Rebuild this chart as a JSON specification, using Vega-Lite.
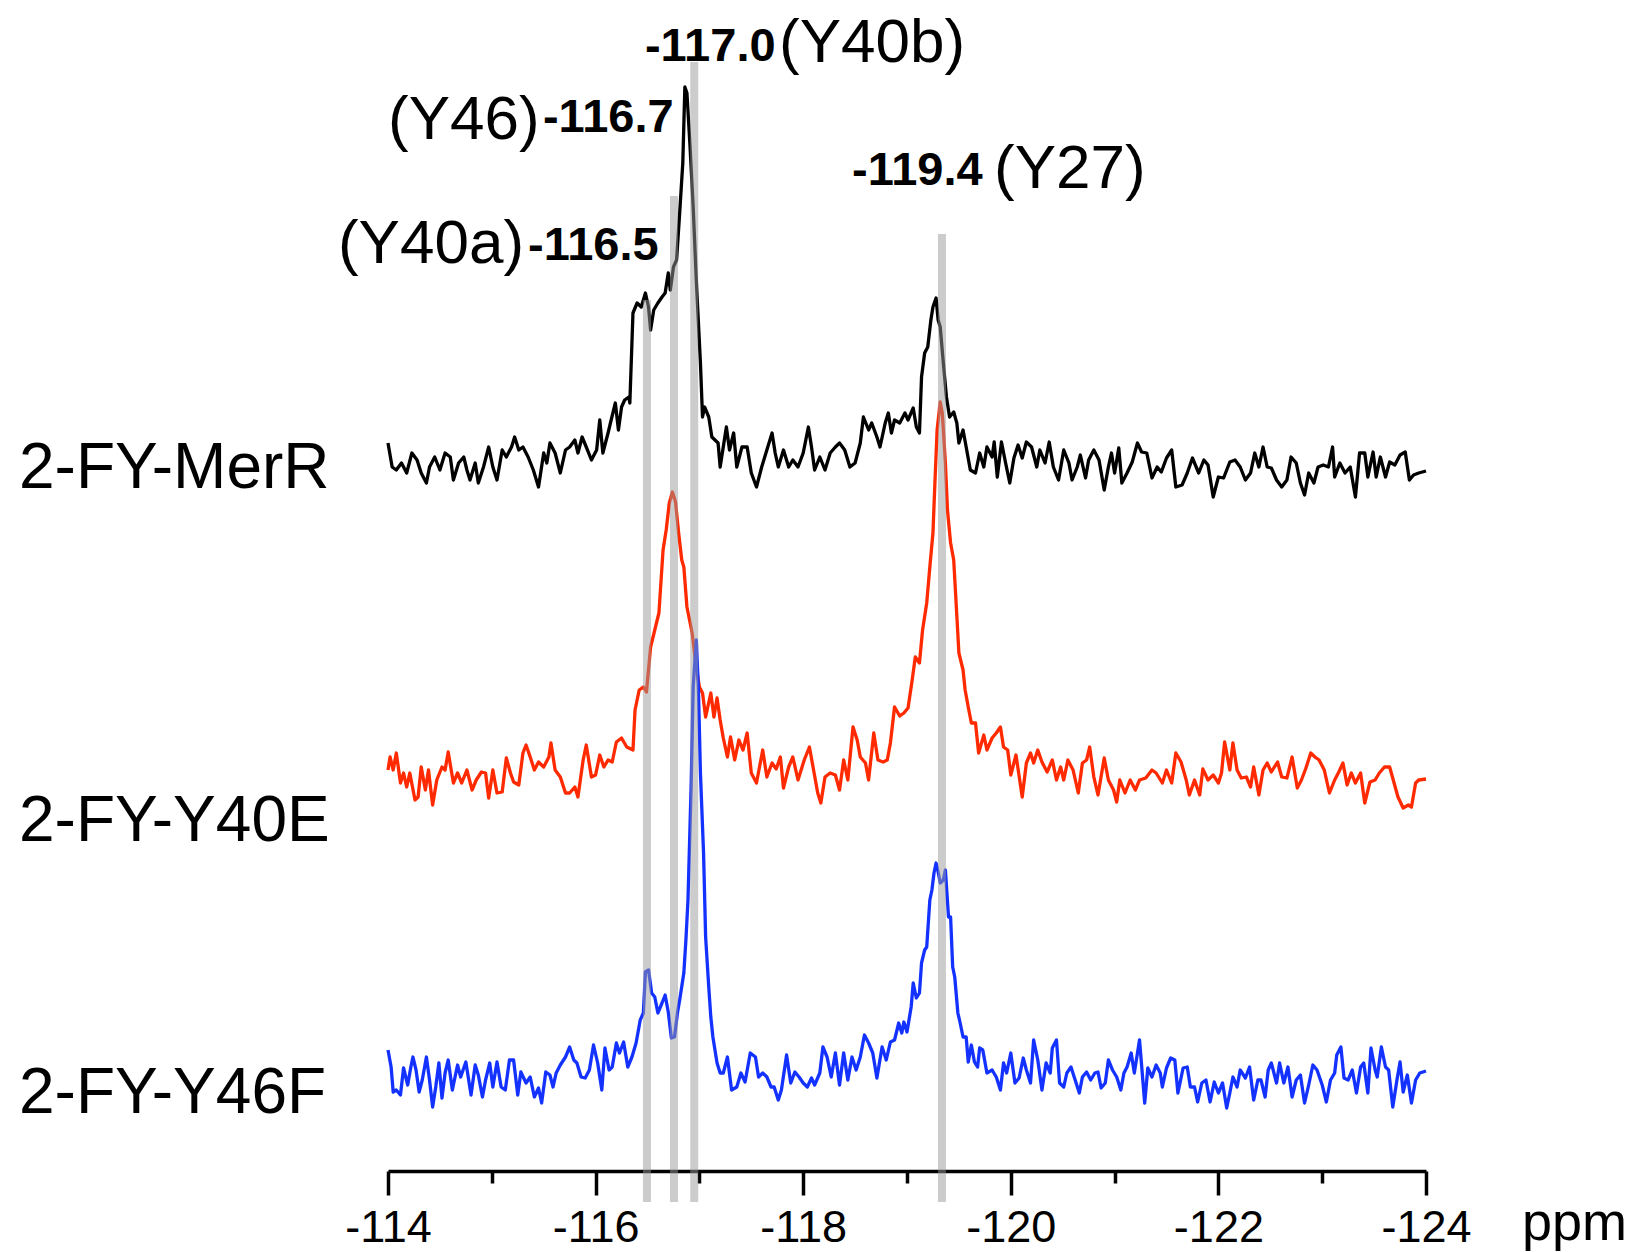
{
"$schema":"https://vega.github.io/schema/vega-lite/v6.json",
"width":1038,"height":1171,
"autosize":{"type":"none"},
"padding":{"left":388,"top":0,"right":214,"bottom":81},
"background":"white",
"config":{"view":{"stroke":null},"font":"Liberation Sans"},
"datasets":{
"spectra":[
{"sample":"MerR","ppm":-114.00,"intensity":728},{"sample":"MerR","ppm":-114.04,"intensity":704},{"sample":"MerR","ppm":-114.08,"intensity":701},{"sample":"MerR","ppm":-114.13,"intensity":708},{"sample":"MerR","ppm":-114.18,"intensity":698},{"sample":"MerR","ppm":-114.23,"intensity":718},{"sample":"MerR","ppm":-114.28,"intensity":711},{"sample":"MerR","ppm":-114.32,"intensity":698},{"sample":"MerR","ppm":-114.37,"intensity":688},{"sample":"MerR","ppm":-114.40,"intensity":704},{"sample":"MerR","ppm":-114.45,"intensity":714},{"sample":"MerR","ppm":-114.50,"intensity":701},{"sample":"MerR","ppm":-114.55,"intensity":718},{"sample":"MerR","ppm":-114.60,"intensity":714},{"sample":"MerR","ppm":-114.63,"intensity":691},{"sample":"MerR","ppm":-114.68,"intensity":708},{"sample":"MerR","ppm":-114.73,"intensity":714},{"sample":"MerR","ppm":-114.76,"intensity":701},{"sample":"MerR","ppm":-114.79,"intensity":691},{"sample":"MerR","ppm":-114.84,"intensity":708},{"sample":"MerR","ppm":-114.87,"intensity":688},{"sample":"MerR","ppm":-114.92,"intensity":704},{"sample":"MerR","ppm":-114.97,"intensity":724},{"sample":"MerR","ppm":-115.01,"intensity":704},{"sample":"MerR","ppm":-115.05,"intensity":691},{"sample":"MerR","ppm":-115.10,"intensity":721},{"sample":"MerR","ppm":-115.14,"intensity":714},{"sample":"MerR","ppm":-115.19,"intensity":724},{"sample":"MerR","ppm":-115.22,"intensity":734},{"sample":"MerR","ppm":-115.26,"intensity":721},{"sample":"MerR","ppm":-115.30,"intensity":724},{"sample":"MerR","ppm":-115.35,"intensity":714},{"sample":"MerR","ppm":-115.40,"intensity":701},{"sample":"MerR","ppm":-115.45,"intensity":684},{"sample":"MerR","ppm":-115.50,"intensity":718},{"sample":"MerR","ppm":-115.53,"intensity":708},{"sample":"MerR","ppm":-115.56,"intensity":728},{"sample":"MerR","ppm":-115.61,"intensity":718},{"sample":"MerR","ppm":-115.66,"intensity":698},{"sample":"MerR","ppm":-115.71,"intensity":721},{"sample":"MerR","ppm":-115.75,"intensity":724},{"sample":"MerR","ppm":-115.80,"intensity":731},{"sample":"MerR","ppm":-115.83,"intensity":718},{"sample":"MerR","ppm":-115.87,"intensity":734},{"sample":"MerR","ppm":-115.91,"intensity":724},{"sample":"MerR","ppm":-115.96,"intensity":711},{"sample":"MerR","ppm":-116.01,"intensity":721},{"sample":"MerR","ppm":-116.04,"intensity":751},{"sample":"MerR","ppm":-116.07,"intensity":718},{"sample":"MerR","ppm":-116.12,"intensity":738},{"sample":"MerR","ppm":-116.15,"intensity":751},{"sample":"MerR","ppm":-116.19,"intensity":768},{"sample":"MerR","ppm":-116.22,"intensity":741},{"sample":"MerR","ppm":-116.25,"intensity":764},{"sample":"MerR","ppm":-116.28,"intensity":771},{"sample":"MerR","ppm":-116.32,"intensity":774},{"sample":"MerR","ppm":-116.33,"intensity":768},{"sample":"MerR","ppm":-116.36,"intensity":858},{"sample":"MerR","ppm":-116.40,"intensity":868},{"sample":"MerR","ppm":-116.44,"intensity":864},{"sample":"MerR","ppm":-116.48,"intensity":878},{"sample":"MerR","ppm":-116.51,"intensity":864},{"sample":"MerR","ppm":-116.53,"intensity":841},{"sample":"MerR","ppm":-116.56,"intensity":861},{"sample":"MerR","ppm":-116.60,"intensity":868},{"sample":"MerR","ppm":-116.64,"intensity":874},{"sample":"MerR","ppm":-116.67,"intensity":878},{"sample":"MerR","ppm":-116.70,"intensity":898},{"sample":"MerR","ppm":-116.72,"intensity":881},{"sample":"MerR","ppm":-116.75,"intensity":904},{"sample":"MerR","ppm":-116.78,"intensity":911},{"sample":"MerR","ppm":-116.81,"intensity":958},{"sample":"MerR","ppm":-116.84,"intensity":1008},{"sample":"MerR","ppm":-116.86,"intensity":1084},{"sample":"MerR","ppm":-116.88,"intensity":1078},{"sample":"MerR","ppm":-116.91,"intensity":1024},{"sample":"MerR","ppm":-116.94,"intensity":964},{"sample":"MerR","ppm":-116.97,"intensity":891},{"sample":"MerR","ppm":-117.01,"intensity":808},{"sample":"MerR","ppm":-117.03,"intensity":754},{"sample":"MerR","ppm":-117.05,"intensity":764},{"sample":"MerR","ppm":-117.09,"intensity":754},{"sample":"MerR","ppm":-117.12,"intensity":734},{"sample":"MerR","ppm":-117.15,"intensity":731},{"sample":"MerR","ppm":-117.18,"intensity":728},{"sample":"MerR","ppm":-117.20,"intensity":704},{"sample":"MerR","ppm":-117.23,"intensity":724},{"sample":"MerR","ppm":-117.26,"intensity":744},{"sample":"MerR","ppm":-117.29,"intensity":721},{"sample":"MerR","ppm":-117.33,"intensity":738},{"sample":"MerR","ppm":-117.36,"intensity":704},{"sample":"MerR","ppm":-117.41,"intensity":724},{"sample":"MerR","ppm":-117.46,"intensity":724},{"sample":"MerR","ppm":-117.50,"intensity":698},{"sample":"MerR","ppm":-117.55,"intensity":684},{"sample":"MerR","ppm":-117.60,"intensity":704},{"sample":"MerR","ppm":-117.65,"intensity":721},{"sample":"MerR","ppm":-117.70,"intensity":738},{"sample":"MerR","ppm":-117.73,"intensity":718},{"sample":"MerR","ppm":-117.76,"intensity":704},{"sample":"MerR","ppm":-117.81,"intensity":721},{"sample":"MerR","ppm":-117.86,"intensity":704},{"sample":"MerR","ppm":-117.90,"intensity":711},{"sample":"MerR","ppm":-117.95,"intensity":704},{"sample":"MerR","ppm":-118.00,"intensity":718},{"sample":"MerR","ppm":-118.05,"intensity":744},{"sample":"MerR","ppm":-118.08,"intensity":724},{"sample":"MerR","ppm":-118.11,"intensity":701},{"sample":"MerR","ppm":-118.16,"intensity":714},{"sample":"MerR","ppm":-118.21,"intensity":701},{"sample":"MerR","ppm":-118.26,"intensity":718},{"sample":"MerR","ppm":-118.31,"intensity":724},{"sample":"MerR","ppm":-118.35,"intensity":728},{"sample":"MerR","ppm":-118.40,"intensity":721},{"sample":"MerR","ppm":-118.45,"intensity":704},{"sample":"MerR","ppm":-118.50,"intensity":708},{"sample":"MerR","ppm":-118.55,"intensity":728},{"sample":"MerR","ppm":-118.58,"intensity":754},{"sample":"MerR","ppm":-118.63,"intensity":741},{"sample":"MerR","ppm":-118.66,"intensity":748},{"sample":"MerR","ppm":-118.71,"intensity":734},{"sample":"MerR","ppm":-118.74,"intensity":724},{"sample":"MerR","ppm":-118.79,"intensity":748},{"sample":"MerR","ppm":-118.82,"intensity":758},{"sample":"MerR","ppm":-118.85,"intensity":738},{"sample":"MerR","ppm":-118.88,"intensity":751},{"sample":"MerR","ppm":-118.93,"intensity":748},{"sample":"MerR","ppm":-118.98,"intensity":758},{"sample":"MerR","ppm":-119.01,"intensity":751},{"sample":"MerR","ppm":-119.06,"intensity":763},{"sample":"MerR","ppm":-119.09,"intensity":744},{"sample":"MerR","ppm":-119.12,"intensity":738},{"sample":"MerR","ppm":-119.14,"intensity":794},{"sample":"MerR","ppm":-119.17,"intensity":818},{"sample":"MerR","ppm":-119.20,"intensity":824},{"sample":"MerR","ppm":-119.23,"intensity":851},{"sample":"MerR","ppm":-119.25,"intensity":864},{"sample":"MerR","ppm":-119.28,"intensity":873},{"sample":"MerR","ppm":-119.30,"intensity":851},{"sample":"MerR","ppm":-119.32,"intensity":844},{"sample":"MerR","ppm":-119.35,"intensity":808},{"sample":"MerR","ppm":-119.38,"intensity":774},{"sample":"MerR","ppm":-119.41,"intensity":754},{"sample":"MerR","ppm":-119.45,"intensity":759},{"sample":"MerR","ppm":-119.48,"intensity":748},{"sample":"MerR","ppm":-119.50,"intensity":728},{"sample":"MerR","ppm":-119.54,"intensity":741},{"sample":"MerR","ppm":-119.57,"intensity":724},{"sample":"MerR","ppm":-119.61,"intensity":701},{"sample":"MerR","ppm":-119.66,"intensity":698},{"sample":"MerR","ppm":-119.70,"intensity":718},{"sample":"MerR","ppm":-119.74,"intensity":704},{"sample":"MerR","ppm":-119.77,"intensity":724},{"sample":"MerR","ppm":-119.82,"intensity":714},{"sample":"MerR","ppm":-119.84,"intensity":729},{"sample":"MerR","ppm":-119.87,"intensity":694},{"sample":"MerR","ppm":-119.91,"intensity":729},{"sample":"MerR","ppm":-119.95,"intensity":708},{"sample":"MerR","ppm":-119.99,"intensity":688},{"sample":"MerR","ppm":-120.03,"intensity":713},{"sample":"MerR","ppm":-120.07,"intensity":726},{"sample":"MerR","ppm":-120.11,"intensity":713},{"sample":"MerR","ppm":-120.15,"intensity":729},{"sample":"MerR","ppm":-120.20,"intensity":724},{"sample":"MerR","ppm":-120.25,"intensity":704},{"sample":"MerR","ppm":-120.28,"intensity":721},{"sample":"MerR","ppm":-120.33,"intensity":708},{"sample":"MerR","ppm":-120.37,"intensity":729},{"sample":"MerR","ppm":-120.41,"intensity":704},{"sample":"MerR","ppm":-120.46,"intensity":691},{"sample":"MerR","ppm":-120.51,"intensity":721},{"sample":"MerR","ppm":-120.56,"intensity":708},{"sample":"MerR","ppm":-120.59,"intensity":691},{"sample":"MerR","ppm":-120.64,"intensity":704},{"sample":"MerR","ppm":-120.67,"intensity":716},{"sample":"MerR","ppm":-120.72,"intensity":693},{"sample":"MerR","ppm":-120.75,"intensity":711},{"sample":"MerR","ppm":-120.80,"intensity":721},{"sample":"MerR","ppm":-120.85,"intensity":711},{"sample":"MerR","ppm":-120.90,"intensity":681},{"sample":"MerR","ppm":-120.94,"intensity":704},{"sample":"MerR","ppm":-120.97,"intensity":718},{"sample":"MerR","ppm":-121.00,"intensity":698},{"sample":"MerR","ppm":-121.04,"intensity":723},{"sample":"MerR","ppm":-121.07,"intensity":688},{"sample":"MerR","ppm":-121.12,"intensity":698},{"sample":"MerR","ppm":-121.17,"intensity":709},{"sample":"MerR","ppm":-121.22,"intensity":728},{"sample":"MerR","ppm":-121.26,"intensity":719},{"sample":"MerR","ppm":-121.31,"intensity":718},{"sample":"MerR","ppm":-121.36,"intensity":693},{"sample":"MerR","ppm":-121.41,"intensity":704},{"sample":"MerR","ppm":-121.45,"intensity":699},{"sample":"MerR","ppm":-121.50,"intensity":713},{"sample":"MerR","ppm":-121.55,"intensity":721},{"sample":"MerR","ppm":-121.59,"intensity":684},{"sample":"MerR","ppm":-121.65,"intensity":686},{"sample":"MerR","ppm":-121.70,"intensity":698},{"sample":"MerR","ppm":-121.75,"intensity":713},{"sample":"MerR","ppm":-121.81,"intensity":698},{"sample":"MerR","ppm":-121.86,"intensity":711},{"sample":"MerR","ppm":-121.90,"intensity":706},{"sample":"MerR","ppm":-121.95,"intensity":674},{"sample":"MerR","ppm":-122.00,"intensity":694},{"sample":"MerR","ppm":-122.05,"intensity":693},{"sample":"MerR","ppm":-122.11,"intensity":709},{"sample":"MerR","ppm":-122.16,"intensity":711},{"sample":"MerR","ppm":-122.21,"intensity":704},{"sample":"MerR","ppm":-122.26,"intensity":691},{"sample":"MerR","ppm":-122.31,"intensity":698},{"sample":"MerR","ppm":-122.35,"intensity":718},{"sample":"MerR","ppm":-122.39,"intensity":704},{"sample":"MerR","ppm":-122.43,"intensity":724},{"sample":"MerR","ppm":-122.47,"intensity":704},{"sample":"MerR","ppm":-122.51,"intensity":703},{"sample":"MerR","ppm":-122.56,"intensity":691},{"sample":"MerR","ppm":-122.61,"intensity":684},{"sample":"MerR","ppm":-122.66,"intensity":691},{"sample":"MerR","ppm":-122.70,"intensity":714},{"sample":"MerR","ppm":-122.75,"intensity":708},{"sample":"MerR","ppm":-122.79,"intensity":688},{"sample":"MerR","ppm":-122.83,"intensity":676},{"sample":"MerR","ppm":-122.87,"intensity":698},{"sample":"MerR","ppm":-122.92,"intensity":688},{"sample":"MerR","ppm":-122.96,"intensity":704},{"sample":"MerR","ppm":-123.01,"intensity":706},{"sample":"MerR","ppm":-123.06,"intensity":704},{"sample":"MerR","ppm":-123.10,"intensity":724},{"sample":"MerR","ppm":-123.12,"intensity":694},{"sample":"MerR","ppm":-123.17,"intensity":708},{"sample":"MerR","ppm":-123.22,"intensity":698},{"sample":"MerR","ppm":-123.27,"intensity":704},{"sample":"MerR","ppm":-123.32,"intensity":674},{"sample":"MerR","ppm":-123.36,"intensity":718},{"sample":"MerR","ppm":-123.41,"intensity":718},{"sample":"MerR","ppm":-123.44,"intensity":694},{"sample":"MerR","ppm":-123.49,"intensity":719},{"sample":"MerR","ppm":-123.52,"intensity":694},{"sample":"MerR","ppm":-123.56,"intensity":714},{"sample":"MerR","ppm":-123.61,"intensity":694},{"sample":"MerR","ppm":-123.65,"intensity":709},{"sample":"MerR","ppm":-123.70,"intensity":706},{"sample":"MerR","ppm":-123.75,"intensity":716},{"sample":"MerR","ppm":-123.80,"intensity":719},{"sample":"MerR","ppm":-123.84,"intensity":691},{"sample":"MerR","ppm":-123.88,"intensity":696},{"sample":"MerR","ppm":-123.93,"intensity":698},{"sample":"MerR","ppm":-124.00,"intensity":700},
{"sample":"Y40E","ppm":-114.00,"intensity":401},{"sample":"Y40E","ppm":-114.02,"intensity":414},{"sample":"Y40E","ppm":-114.05,"intensity":401},{"sample":"Y40E","ppm":-114.08,"intensity":418},{"sample":"Y40E","ppm":-114.12,"intensity":388},{"sample":"Y40E","ppm":-114.15,"intensity":398},{"sample":"Y40E","ppm":-114.18,"intensity":384},{"sample":"Y40E","ppm":-114.21,"intensity":398},{"sample":"Y40E","ppm":-114.26,"intensity":371},{"sample":"Y40E","ppm":-114.29,"intensity":374},{"sample":"Y40E","ppm":-114.32,"intensity":404},{"sample":"Y40E","ppm":-114.36,"intensity":381},{"sample":"Y40E","ppm":-114.39,"intensity":401},{"sample":"Y40E","ppm":-114.43,"intensity":366},{"sample":"Y40E","ppm":-114.47,"intensity":391},{"sample":"Y40E","ppm":-114.52,"intensity":404},{"sample":"Y40E","ppm":-114.55,"intensity":401},{"sample":"Y40E","ppm":-114.58,"intensity":419},{"sample":"Y40E","ppm":-114.63,"intensity":388},{"sample":"Y40E","ppm":-114.67,"intensity":398},{"sample":"Y40E","ppm":-114.71,"intensity":388},{"sample":"Y40E","ppm":-114.76,"intensity":401},{"sample":"Y40E","ppm":-114.81,"intensity":381},{"sample":"Y40E","ppm":-114.85,"intensity":391},{"sample":"Y40E","ppm":-114.90,"intensity":399},{"sample":"Y40E","ppm":-114.94,"intensity":398},{"sample":"Y40E","ppm":-114.97,"intensity":373},{"sample":"Y40E","ppm":-115.01,"intensity":401},{"sample":"Y40E","ppm":-115.05,"intensity":378},{"sample":"Y40E","ppm":-115.10,"intensity":379},{"sample":"Y40E","ppm":-115.14,"intensity":413},{"sample":"Y40E","ppm":-115.18,"intensity":398},{"sample":"Y40E","ppm":-115.21,"intensity":389},{"sample":"Y40E","ppm":-115.26,"intensity":386},{"sample":"Y40E","ppm":-115.30,"intensity":418},{"sample":"Y40E","ppm":-115.33,"intensity":426},{"sample":"Y40E","ppm":-115.37,"intensity":414},{"sample":"Y40E","ppm":-115.41,"intensity":401},{"sample":"Y40E","ppm":-115.45,"intensity":409},{"sample":"Y40E","ppm":-115.50,"intensity":404},{"sample":"Y40E","ppm":-115.55,"intensity":414},{"sample":"Y40E","ppm":-115.57,"intensity":428},{"sample":"Y40E","ppm":-115.61,"intensity":401},{"sample":"Y40E","ppm":-115.66,"intensity":394},{"sample":"Y40E","ppm":-115.71,"intensity":378},{"sample":"Y40E","ppm":-115.75,"intensity":378},{"sample":"Y40E","ppm":-115.80,"intensity":384},{"sample":"Y40E","ppm":-115.83,"intensity":374},{"sample":"Y40E","ppm":-115.88,"intensity":411},{"sample":"Y40E","ppm":-115.91,"intensity":426},{"sample":"Y40E","ppm":-115.96,"intensity":394},{"sample":"Y40E","ppm":-116.00,"intensity":396},{"sample":"Y40E","ppm":-116.04,"intensity":416},{"sample":"Y40E","ppm":-116.08,"intensity":404},{"sample":"Y40E","ppm":-116.12,"intensity":411},{"sample":"Y40E","ppm":-116.16,"intensity":409},{"sample":"Y40E","ppm":-116.20,"intensity":429},{"sample":"Y40E","ppm":-116.25,"intensity":433},{"sample":"Y40E","ppm":-116.30,"intensity":424},{"sample":"Y40E","ppm":-116.36,"intensity":421},{"sample":"Y40E","ppm":-116.38,"intensity":461},{"sample":"Y40E","ppm":-116.42,"intensity":481},{"sample":"Y40E","ppm":-116.46,"intensity":484},{"sample":"Y40E","ppm":-116.49,"intensity":479},{"sample":"Y40E","ppm":-116.53,"intensity":524},{"sample":"Y40E","ppm":-116.57,"intensity":541},{"sample":"Y40E","ppm":-116.61,"intensity":558},{"sample":"Y40E","ppm":-116.65,"intensity":621},{"sample":"Y40E","ppm":-116.68,"intensity":641},{"sample":"Y40E","ppm":-116.71,"intensity":668},{"sample":"Y40E","ppm":-116.74,"intensity":679},{"sample":"Y40E","ppm":-116.77,"intensity":669},{"sample":"Y40E","ppm":-116.80,"intensity":638},{"sample":"Y40E","ppm":-116.83,"intensity":611},{"sample":"Y40E","ppm":-116.85,"intensity":604},{"sample":"Y40E","ppm":-116.88,"intensity":564},{"sample":"Y40E","ppm":-116.93,"intensity":538},{"sample":"Y40E","ppm":-116.97,"intensity":504},{"sample":"Y40E","ppm":-117.00,"intensity":484},{"sample":"Y40E","ppm":-117.03,"intensity":478},{"sample":"Y40E","ppm":-117.06,"intensity":454},{"sample":"Y40E","ppm":-117.11,"intensity":478},{"sample":"Y40E","ppm":-117.14,"intensity":454},{"sample":"Y40E","ppm":-117.17,"intensity":473},{"sample":"Y40E","ppm":-117.20,"intensity":451},{"sample":"Y40E","ppm":-117.23,"intensity":433},{"sample":"Y40E","ppm":-117.27,"intensity":414},{"sample":"Y40E","ppm":-117.30,"intensity":434},{"sample":"Y40E","ppm":-117.34,"intensity":411},{"sample":"Y40E","ppm":-117.38,"intensity":431},{"sample":"Y40E","ppm":-117.42,"intensity":421},{"sample":"Y40E","ppm":-117.46,"intensity":438},{"sample":"Y40E","ppm":-117.50,"intensity":398},{"sample":"Y40E","ppm":-117.55,"intensity":388},{"sample":"Y40E","ppm":-117.61,"intensity":421},{"sample":"Y40E","ppm":-117.65,"intensity":394},{"sample":"Y40E","ppm":-117.70,"intensity":408},{"sample":"Y40E","ppm":-117.74,"intensity":402},{"sample":"Y40E","ppm":-117.78,"intensity":414},{"sample":"Y40E","ppm":-117.81,"intensity":383},{"sample":"Y40E","ppm":-117.86,"intensity":404},{"sample":"Y40E","ppm":-117.90,"intensity":414},{"sample":"Y40E","ppm":-117.95,"intensity":391},{"sample":"Y40E","ppm":-118.01,"intensity":411},{"sample":"Y40E","ppm":-118.06,"intensity":424},{"sample":"Y40E","ppm":-118.10,"intensity":401},{"sample":"Y40E","ppm":-118.14,"intensity":378},{"sample":"Y40E","ppm":-118.17,"intensity":368},{"sample":"Y40E","ppm":-118.21,"intensity":394},{"sample":"Y40E","ppm":-118.26,"intensity":398},{"sample":"Y40E","ppm":-118.31,"intensity":396},{"sample":"Y40E","ppm":-118.35,"intensity":381},{"sample":"Y40E","ppm":-118.39,"intensity":411},{"sample":"Y40E","ppm":-118.43,"intensity":391},{"sample":"Y40E","ppm":-118.48,"intensity":444},{"sample":"Y40E","ppm":-118.52,"intensity":431},{"sample":"Y40E","ppm":-118.55,"intensity":414},{"sample":"Y40E","ppm":-118.60,"intensity":408},{"sample":"Y40E","ppm":-118.63,"intensity":391},{"sample":"Y40E","ppm":-118.68,"intensity":438},{"sample":"Y40E","ppm":-118.72,"intensity":411},{"sample":"Y40E","ppm":-118.77,"intensity":409},{"sample":"Y40E","ppm":-118.81,"intensity":411},{"sample":"Y40E","ppm":-118.84,"intensity":428},{"sample":"Y40E","ppm":-118.88,"intensity":464},{"sample":"Y40E","ppm":-118.93,"intensity":455},{"sample":"Y40E","ppm":-118.97,"intensity":458},{"sample":"Y40E","ppm":-119.01,"intensity":463},{"sample":"Y40E","ppm":-119.05,"intensity":491},{"sample":"Y40E","ppm":-119.08,"intensity":514},{"sample":"Y40E","ppm":-119.12,"intensity":508},{"sample":"Y40E","ppm":-119.15,"intensity":541},{"sample":"Y40E","ppm":-119.19,"intensity":568},{"sample":"Y40E","ppm":-119.22,"intensity":604},{"sample":"Y40E","ppm":-119.25,"intensity":638},{"sample":"Y40E","ppm":-119.27,"intensity":691},{"sample":"Y40E","ppm":-119.29,"intensity":741},{"sample":"Y40E","ppm":-119.32,"intensity":769},{"sample":"Y40E","ppm":-119.34,"intensity":758},{"sample":"Y40E","ppm":-119.37,"intensity":708},{"sample":"Y40E","ppm":-119.39,"intensity":661},{"sample":"Y40E","ppm":-119.42,"intensity":628},{"sample":"Y40E","ppm":-119.45,"intensity":611},{"sample":"Y40E","ppm":-119.47,"intensity":574},{"sample":"Y40E","ppm":-119.50,"intensity":518},{"sample":"Y40E","ppm":-119.54,"intensity":501},{"sample":"Y40E","ppm":-119.56,"intensity":481},{"sample":"Y40E","ppm":-119.59,"intensity":464},{"sample":"Y40E","ppm":-119.62,"intensity":448},{"sample":"Y40E","ppm":-119.66,"intensity":448},{"sample":"Y40E","ppm":-119.69,"intensity":418},{"sample":"Y40E","ppm":-119.74,"intensity":436},{"sample":"Y40E","ppm":-119.77,"intensity":421},{"sample":"Y40E","ppm":-119.82,"intensity":433},{"sample":"Y40E","ppm":-119.86,"intensity":438},{"sample":"Y40E","ppm":-119.90,"intensity":444},{"sample":"Y40E","ppm":-119.93,"intensity":424},{"sample":"Y40E","ppm":-119.97,"intensity":421},{"sample":"Y40E","ppm":-120.00,"intensity":396},{"sample":"Y40E","ppm":-120.05,"intensity":416},{"sample":"Y40E","ppm":-120.11,"intensity":374},{"sample":"Y40E","ppm":-120.15,"intensity":408},{"sample":"Y40E","ppm":-120.19,"intensity":418},{"sample":"Y40E","ppm":-120.22,"intensity":408},{"sample":"Y40E","ppm":-120.26,"intensity":421},{"sample":"Y40E","ppm":-120.30,"intensity":409},{"sample":"Y40E","ppm":-120.35,"intensity":399},{"sample":"Y40E","ppm":-120.40,"intensity":411},{"sample":"Y40E","ppm":-120.44,"intensity":391},{"sample":"Y40E","ppm":-120.48,"intensity":404},{"sample":"Y40E","ppm":-120.51,"intensity":391},{"sample":"Y40E","ppm":-120.55,"intensity":411},{"sample":"Y40E","ppm":-120.60,"intensity":401},{"sample":"Y40E","ppm":-120.65,"intensity":378},{"sample":"Y40E","ppm":-120.69,"intensity":408},{"sample":"Y40E","ppm":-120.73,"intensity":411},{"sample":"Y40E","ppm":-120.76,"intensity":424},{"sample":"Y40E","ppm":-120.80,"intensity":394},{"sample":"Y40E","ppm":-120.84,"intensity":376},{"sample":"Y40E","ppm":-120.90,"intensity":413},{"sample":"Y40E","ppm":-120.94,"intensity":391},{"sample":"Y40E","ppm":-120.99,"intensity":381},{"sample":"Y40E","ppm":-121.02,"intensity":369},{"sample":"Y40E","ppm":-121.05,"intensity":391},{"sample":"Y40E","ppm":-121.10,"intensity":378},{"sample":"Y40E","ppm":-121.15,"intensity":391},{"sample":"Y40E","ppm":-121.20,"intensity":381},{"sample":"Y40E","ppm":-121.24,"intensity":391},{"sample":"Y40E","ppm":-121.30,"intensity":393},{"sample":"Y40E","ppm":-121.36,"intensity":401},{"sample":"Y40E","ppm":-121.40,"intensity":398},{"sample":"Y40E","ppm":-121.46,"intensity":388},{"sample":"Y40E","ppm":-121.50,"intensity":401},{"sample":"Y40E","ppm":-121.55,"intensity":388},{"sample":"Y40E","ppm":-121.59,"intensity":418},{"sample":"Y40E","ppm":-121.64,"intensity":409},{"sample":"Y40E","ppm":-121.69,"intensity":391},{"sample":"Y40E","ppm":-121.72,"intensity":376},{"sample":"Y40E","ppm":-121.77,"intensity":391},{"sample":"Y40E","ppm":-121.82,"intensity":376},{"sample":"Y40E","ppm":-121.85,"intensity":402},{"sample":"Y40E","ppm":-121.90,"intensity":391},{"sample":"Y40E","ppm":-121.95,"intensity":396},{"sample":"Y40E","ppm":-122.00,"intensity":388},{"sample":"Y40E","ppm":-122.03,"intensity":398},{"sample":"Y40E","ppm":-122.06,"intensity":429},{"sample":"Y40E","ppm":-122.11,"intensity":401},{"sample":"Y40E","ppm":-122.14,"intensity":428},{"sample":"Y40E","ppm":-122.18,"intensity":401},{"sample":"Y40E","ppm":-122.22,"intensity":393},{"sample":"Y40E","ppm":-122.27,"intensity":394},{"sample":"Y40E","ppm":-122.31,"intensity":384},{"sample":"Y40E","ppm":-122.34,"intensity":404},{"sample":"Y40E","ppm":-122.39,"intensity":376},{"sample":"Y40E","ppm":-122.43,"intensity":401},{"sample":"Y40E","ppm":-122.47,"intensity":408},{"sample":"Y40E","ppm":-122.51,"intensity":399},{"sample":"Y40E","ppm":-122.57,"intensity":409},{"sample":"Y40E","ppm":-122.61,"intensity":394},{"sample":"Y40E","ppm":-122.66,"intensity":393},{"sample":"Y40E","ppm":-122.71,"intensity":414},{"sample":"Y40E","ppm":-122.76,"intensity":383},{"sample":"Y40E","ppm":-122.80,"intensity":391},{"sample":"Y40E","ppm":-122.84,"intensity":402},{"sample":"Y40E","ppm":-122.89,"intensity":418},{"sample":"Y40E","ppm":-122.93,"intensity":414},{"sample":"Y40E","ppm":-122.97,"intensity":411},{"sample":"Y40E","ppm":-123.02,"intensity":401},{"sample":"Y40E","ppm":-123.07,"intensity":378},{"sample":"Y40E","ppm":-123.12,"intensity":391},{"sample":"Y40E","ppm":-123.16,"intensity":399},{"sample":"Y40E","ppm":-123.20,"intensity":408},{"sample":"Y40E","ppm":-123.24,"intensity":386},{"sample":"Y40E","ppm":-123.28,"intensity":398},{"sample":"Y40E","ppm":-123.32,"intensity":388},{"sample":"Y40E","ppm":-123.37,"intensity":398},{"sample":"Y40E","ppm":-123.41,"intensity":368},{"sample":"Y40E","ppm":-123.46,"intensity":389},{"sample":"Y40E","ppm":-123.51,"intensity":391},{"sample":"Y40E","ppm":-123.55,"intensity":398},{"sample":"Y40E","ppm":-123.60,"intensity":404},{"sample":"Y40E","ppm":-123.65,"intensity":404},{"sample":"Y40E","ppm":-123.69,"intensity":389},{"sample":"Y40E","ppm":-123.73,"intensity":374},{"sample":"Y40E","ppm":-123.78,"intensity":363},{"sample":"Y40E","ppm":-123.83,"intensity":366},{"sample":"Y40E","ppm":-123.86,"intensity":364},{"sample":"Y40E","ppm":-123.90,"intensity":388},{"sample":"Y40E","ppm":-123.93,"intensity":391},{"sample":"Y40E","ppm":-124.00,"intensity":392},
{"sample":"Y46F","ppm":-114.00,"intensity":121},{"sample":"Y46F","ppm":-114.03,"intensity":104},{"sample":"Y46F","ppm":-114.05,"intensity":79},{"sample":"Y46F","ppm":-114.08,"intensity":81},{"sample":"Y46F","ppm":-114.12,"intensity":76},{"sample":"Y46F","ppm":-114.15,"intensity":103},{"sample":"Y46F","ppm":-114.19,"intensity":86},{"sample":"Y46F","ppm":-114.22,"intensity":104},{"sample":"Y46F","ppm":-114.24,"intensity":114},{"sample":"Y46F","ppm":-114.27,"intensity":101},{"sample":"Y46F","ppm":-114.30,"intensity":79},{"sample":"Y46F","ppm":-114.33,"intensity":91},{"sample":"Y46F","ppm":-114.37,"intensity":114},{"sample":"Y46F","ppm":-114.40,"intensity":91},{"sample":"Y46F","ppm":-114.43,"intensity":64},{"sample":"Y46F","ppm":-114.46,"intensity":84},{"sample":"Y46F","ppm":-114.49,"intensity":108},{"sample":"Y46F","ppm":-114.52,"intensity":73},{"sample":"Y46F","ppm":-114.55,"intensity":98},{"sample":"Y46F","ppm":-114.58,"intensity":111},{"sample":"Y46F","ppm":-114.62,"intensity":81},{"sample":"Y46F","ppm":-114.67,"intensity":106},{"sample":"Y46F","ppm":-114.70,"intensity":94},{"sample":"Y46F","ppm":-114.75,"intensity":109},{"sample":"Y46F","ppm":-114.80,"intensity":76},{"sample":"Y46F","ppm":-114.84,"intensity":106},{"sample":"Y46F","ppm":-114.87,"intensity":96},{"sample":"Y46F","ppm":-114.91,"intensity":74},{"sample":"Y46F","ppm":-114.94,"intensity":91},{"sample":"Y46F","ppm":-114.98,"intensity":108},{"sample":"Y46F","ppm":-115.01,"intensity":84},{"sample":"Y46F","ppm":-115.05,"intensity":109},{"sample":"Y46F","ppm":-115.09,"intensity":84},{"sample":"Y46F","ppm":-115.13,"intensity":81},{"sample":"Y46F","ppm":-115.17,"intensity":111},{"sample":"Y46F","ppm":-115.21,"intensity":111},{"sample":"Y46F","ppm":-115.25,"intensity":76},{"sample":"Y46F","ppm":-115.28,"intensity":99},{"sample":"Y46F","ppm":-115.33,"intensity":88},{"sample":"Y46F","ppm":-115.37,"intensity":94},{"sample":"Y46F","ppm":-115.41,"intensity":74},{"sample":"Y46F","ppm":-115.45,"intensity":83},{"sample":"Y46F","ppm":-115.48,"intensity":68},{"sample":"Y46F","ppm":-115.52,"intensity":99},{"sample":"Y46F","ppm":-115.56,"intensity":96},{"sample":"Y46F","ppm":-115.59,"intensity":84},{"sample":"Y46F","ppm":-115.62,"intensity":98},{"sample":"Y46F","ppm":-115.66,"intensity":106},{"sample":"Y46F","ppm":-115.71,"intensity":114},{"sample":"Y46F","ppm":-115.75,"intensity":124},{"sample":"Y46F","ppm":-115.79,"intensity":111},{"sample":"Y46F","ppm":-115.82,"intensity":108},{"sample":"Y46F","ppm":-115.86,"intensity":94},{"sample":"Y46F","ppm":-115.90,"intensity":93},{"sample":"Y46F","ppm":-115.94,"intensity":101},{"sample":"Y46F","ppm":-115.98,"intensity":126},{"sample":"Y46F","ppm":-116.02,"intensity":108},{"sample":"Y46F","ppm":-116.06,"intensity":81},{"sample":"Y46F","ppm":-116.09,"intensity":123},{"sample":"Y46F","ppm":-116.13,"intensity":101},{"sample":"Y46F","ppm":-116.16,"intensity":104},{"sample":"Y46F","ppm":-116.20,"intensity":128},{"sample":"Y46F","ppm":-116.23,"intensity":118},{"sample":"Y46F","ppm":-116.27,"intensity":129},{"sample":"Y46F","ppm":-116.31,"intensity":104},{"sample":"Y46F","ppm":-116.35,"intensity":114},{"sample":"Y46F","ppm":-116.39,"intensity":128},{"sample":"Y46F","ppm":-116.43,"intensity":151},{"sample":"Y46F","ppm":-116.46,"intensity":158},{"sample":"Y46F","ppm":-116.48,"intensity":199},{"sample":"Y46F","ppm":-116.51,"intensity":201},{"sample":"Y46F","ppm":-116.54,"intensity":178},{"sample":"Y46F","ppm":-116.57,"intensity":174},{"sample":"Y46F","ppm":-116.60,"intensity":158},{"sample":"Y46F","ppm":-116.64,"intensity":168},{"sample":"Y46F","ppm":-116.67,"intensity":176},{"sample":"Y46F","ppm":-116.70,"intensity":159},{"sample":"Y46F","ppm":-116.73,"intensity":133},{"sample":"Y46F","ppm":-116.76,"intensity":134},{"sample":"Y46F","ppm":-116.79,"intensity":159},{"sample":"Y46F","ppm":-116.81,"intensity":171},{"sample":"Y46F","ppm":-116.85,"intensity":198},{"sample":"Y46F","ppm":-116.87,"intensity":231},{"sample":"Y46F","ppm":-116.89,"intensity":271},{"sample":"Y46F","ppm":-116.92,"intensity":384},{"sample":"Y46F","ppm":-116.94,"intensity":484},{"sample":"Y46F","ppm":-116.97,"intensity":531},{"sample":"Y46F","ppm":-116.99,"intensity":484},{"sample":"Y46F","ppm":-117.01,"intensity":398},{"sample":"Y46F","ppm":-117.04,"intensity":318},{"sample":"Y46F","ppm":-117.06,"intensity":234},{"sample":"Y46F","ppm":-117.09,"intensity":184},{"sample":"Y46F","ppm":-117.11,"intensity":154},{"sample":"Y46F","ppm":-117.13,"intensity":134},{"sample":"Y46F","ppm":-117.17,"intensity":108},{"sample":"Y46F","ppm":-117.20,"intensity":98},{"sample":"Y46F","ppm":-117.23,"intensity":98},{"sample":"Y46F","ppm":-117.27,"intensity":114},{"sample":"Y46F","ppm":-117.31,"intensity":81},{"sample":"Y46F","ppm":-117.36,"intensity":84},{"sample":"Y46F","ppm":-117.40,"intensity":98},{"sample":"Y46F","ppm":-117.44,"intensity":89},{"sample":"Y46F","ppm":-117.49,"intensity":118},{"sample":"Y46F","ppm":-117.54,"intensity":114},{"sample":"Y46F","ppm":-117.57,"intensity":94},{"sample":"Y46F","ppm":-117.61,"intensity":98},{"sample":"Y46F","ppm":-117.65,"intensity":94},{"sample":"Y46F","ppm":-117.69,"intensity":84},{"sample":"Y46F","ppm":-117.72,"intensity":84},{"sample":"Y46F","ppm":-117.76,"intensity":71},{"sample":"Y46F","ppm":-117.79,"intensity":81},{"sample":"Y46F","ppm":-117.84,"intensity":116},{"sample":"Y46F","ppm":-117.88,"intensity":88},{"sample":"Y46F","ppm":-117.92,"intensity":99},{"sample":"Y46F","ppm":-117.96,"intensity":94},{"sample":"Y46F","ppm":-118.00,"intensity":88},{"sample":"Y46F","ppm":-118.04,"intensity":84},{"sample":"Y46F","ppm":-118.08,"intensity":93},{"sample":"Y46F","ppm":-118.11,"intensity":86},{"sample":"Y46F","ppm":-118.16,"intensity":98},{"sample":"Y46F","ppm":-118.19,"intensity":124},{"sample":"Y46F","ppm":-118.23,"intensity":114},{"sample":"Y46F","ppm":-118.27,"intensity":94},{"sample":"Y46F","ppm":-118.31,"intensity":118},{"sample":"Y46F","ppm":-118.35,"intensity":86},{"sample":"Y46F","ppm":-118.39,"intensity":118},{"sample":"Y46F","ppm":-118.43,"intensity":91},{"sample":"Y46F","ppm":-118.47,"intensity":114},{"sample":"Y46F","ppm":-118.51,"intensity":101},{"sample":"Y46F","ppm":-118.55,"intensity":114},{"sample":"Y46F","ppm":-118.59,"intensity":136},{"sample":"Y46F","ppm":-118.63,"intensity":128},{"sample":"Y46F","ppm":-118.67,"intensity":118},{"sample":"Y46F","ppm":-118.71,"intensity":93},{"sample":"Y46F","ppm":-118.76,"intensity":124},{"sample":"Y46F","ppm":-118.80,"intensity":111},{"sample":"Y46F","ppm":-118.84,"intensity":129},{"sample":"Y46F","ppm":-118.88,"intensity":131},{"sample":"Y46F","ppm":-118.92,"intensity":148},{"sample":"Y46F","ppm":-118.95,"intensity":138},{"sample":"Y46F","ppm":-118.97,"intensity":149},{"sample":"Y46F","ppm":-119.00,"intensity":139},{"sample":"Y46F","ppm":-119.04,"intensity":164},{"sample":"Y46F","ppm":-119.06,"intensity":188},{"sample":"Y46F","ppm":-119.09,"intensity":173},{"sample":"Y46F","ppm":-119.12,"intensity":178},{"sample":"Y46F","ppm":-119.14,"intensity":208},{"sample":"Y46F","ppm":-119.17,"intensity":221},{"sample":"Y46F","ppm":-119.19,"intensity":224},{"sample":"Y46F","ppm":-119.22,"intensity":271},{"sample":"Y46F","ppm":-119.24,"intensity":281},{"sample":"Y46F","ppm":-119.26,"intensity":298},{"sample":"Y46F","ppm":-119.28,"intensity":308},{"sample":"Y46F","ppm":-119.30,"intensity":299},{"sample":"Y46F","ppm":-119.32,"intensity":288},{"sample":"Y46F","ppm":-119.35,"intensity":291},{"sample":"Y46F","ppm":-119.37,"intensity":301},{"sample":"Y46F","ppm":-119.40,"intensity":254},{"sample":"Y46F","ppm":-119.42,"intensity":254},{"sample":"Y46F","ppm":-119.44,"intensity":204},{"sample":"Y46F","ppm":-119.46,"intensity":194},{"sample":"Y46F","ppm":-119.49,"intensity":158},{"sample":"Y46F","ppm":-119.51,"intensity":149},{"sample":"Y46F","ppm":-119.54,"intensity":134},{"sample":"Y46F","ppm":-119.57,"intensity":134},{"sample":"Y46F","ppm":-119.59,"intensity":109},{"sample":"Y46F","ppm":-119.62,"intensity":126},{"sample":"Y46F","ppm":-119.65,"intensity":109},{"sample":"Y46F","ppm":-119.68,"intensity":104},{"sample":"Y46F","ppm":-119.70,"intensity":123},{"sample":"Y46F","ppm":-119.73,"intensity":121},{"sample":"Y46F","ppm":-119.77,"intensity":98},{"sample":"Y46F","ppm":-119.82,"intensity":101},{"sample":"Y46F","ppm":-119.86,"intensity":94},{"sample":"Y46F","ppm":-119.90,"intensity":81},{"sample":"Y46F","ppm":-119.93,"intensity":108},{"sample":"Y46F","ppm":-119.96,"intensity":98},{"sample":"Y46F","ppm":-120.00,"intensity":118},{"sample":"Y46F","ppm":-120.04,"intensity":88},{"sample":"Y46F","ppm":-120.08,"intensity":93},{"sample":"Y46F","ppm":-120.12,"intensity":113},{"sample":"Y46F","ppm":-120.15,"intensity":101},{"sample":"Y46F","ppm":-120.19,"intensity":88},{"sample":"Y46F","ppm":-120.22,"intensity":131},{"sample":"Y46F","ppm":-120.26,"intensity":111},{"sample":"Y46F","ppm":-120.30,"intensity":81},{"sample":"Y46F","ppm":-120.34,"intensity":108},{"sample":"Y46F","ppm":-120.38,"intensity":98},{"sample":"Y46F","ppm":-120.40,"intensity":123},{"sample":"Y46F","ppm":-120.44,"intensity":131},{"sample":"Y46F","ppm":-120.47,"intensity":88},{"sample":"Y46F","ppm":-120.51,"intensity":84},{"sample":"Y46F","ppm":-120.54,"intensity":98},{"sample":"Y46F","ppm":-120.58,"intensity":104},{"sample":"Y46F","ppm":-120.62,"intensity":91},{"sample":"Y46F","ppm":-120.66,"intensity":78},{"sample":"Y46F","ppm":-120.69,"intensity":94},{"sample":"Y46F","ppm":-120.73,"intensity":99},{"sample":"Y46F","ppm":-120.77,"intensity":91},{"sample":"Y46F","ppm":-120.81,"intensity":98},{"sample":"Y46F","ppm":-120.84,"intensity":99},{"sample":"Y46F","ppm":-120.87,"intensity":83},{"sample":"Y46F","ppm":-120.91,"intensity":88},{"sample":"Y46F","ppm":-120.94,"intensity":111},{"sample":"Y46F","ppm":-120.98,"intensity":101},{"sample":"Y46F","ppm":-121.02,"intensity":94},{"sample":"Y46F","ppm":-121.06,"intensity":81},{"sample":"Y46F","ppm":-121.09,"intensity":98},{"sample":"Y46F","ppm":-121.12,"intensity":104},{"sample":"Y46F","ppm":-121.16,"intensity":118},{"sample":"Y46F","ppm":-121.19,"intensity":98},{"sample":"Y46F","ppm":-121.24,"intensity":131},{"sample":"Y46F","ppm":-121.29,"intensity":68},{"sample":"Y46F","ppm":-121.32,"intensity":103},{"sample":"Y46F","ppm":-121.36,"intensity":94},{"sample":"Y46F","ppm":-121.40,"intensity":106},{"sample":"Y46F","ppm":-121.44,"intensity":98},{"sample":"Y46F","ppm":-121.46,"intensity":84},{"sample":"Y46F","ppm":-121.50,"intensity":103},{"sample":"Y46F","ppm":-121.54,"intensity":113},{"sample":"Y46F","ppm":-121.58,"intensity":111},{"sample":"Y46F","ppm":-121.61,"intensity":78},{"sample":"Y46F","ppm":-121.66,"intensity":103},{"sample":"Y46F","ppm":-121.70,"intensity":104},{"sample":"Y46F","ppm":-121.73,"intensity":84},{"sample":"Y46F","ppm":-121.77,"intensity":84},{"sample":"Y46F","ppm":-121.80,"intensity":69},{"sample":"Y46F","ppm":-121.84,"intensity":88},{"sample":"Y46F","ppm":-121.88,"intensity":91},{"sample":"Y46F","ppm":-121.92,"intensity":69},{"sample":"Y46F","ppm":-121.96,"intensity":89},{"sample":"Y46F","ppm":-122.00,"intensity":78},{"sample":"Y46F","ppm":-122.04,"intensity":88},{"sample":"Y46F","ppm":-122.08,"intensity":63},{"sample":"Y46F","ppm":-122.11,"intensity":78},{"sample":"Y46F","ppm":-122.14,"intensity":94},{"sample":"Y46F","ppm":-122.18,"intensity":84},{"sample":"Y46F","ppm":-122.21,"intensity":101},{"sample":"Y46F","ppm":-122.26,"intensity":93},{"sample":"Y46F","ppm":-122.30,"intensity":104},{"sample":"Y46F","ppm":-122.34,"intensity":71},{"sample":"Y46F","ppm":-122.38,"intensity":91},{"sample":"Y46F","ppm":-122.41,"intensity":91},{"sample":"Y46F","ppm":-122.45,"intensity":74},{"sample":"Y46F","ppm":-122.48,"intensity":101},{"sample":"Y46F","ppm":-122.51,"intensity":108},{"sample":"Y46F","ppm":-122.56,"intensity":88},{"sample":"Y46F","ppm":-122.59,"intensity":108},{"sample":"Y46F","ppm":-122.63,"intensity":88},{"sample":"Y46F","ppm":-122.67,"intensity":104},{"sample":"Y46F","ppm":-122.71,"intensity":74},{"sample":"Y46F","ppm":-122.75,"intensity":91},{"sample":"Y46F","ppm":-122.79,"intensity":96},{"sample":"Y46F","ppm":-122.83,"intensity":68},{"sample":"Y46F","ppm":-122.87,"intensity":86},{"sample":"Y46F","ppm":-122.91,"intensity":106},{"sample":"Y46F","ppm":-122.95,"intensity":101},{"sample":"Y46F","ppm":-123.00,"intensity":86},{"sample":"Y46F","ppm":-123.04,"intensity":69},{"sample":"Y46F","ppm":-123.08,"intensity":91},{"sample":"Y46F","ppm":-123.12,"intensity":98},{"sample":"Y46F","ppm":-123.14,"intensity":116},{"sample":"Y46F","ppm":-123.18,"intensity":124},{"sample":"Y46F","ppm":-123.21,"intensity":93},{"sample":"Y46F","ppm":-123.25,"intensity":91},{"sample":"Y46F","ppm":-123.29,"intensity":101},{"sample":"Y46F","ppm":-123.33,"intensity":78},{"sample":"Y46F","ppm":-123.37,"intensity":104},{"sample":"Y46F","ppm":-123.40,"intensity":108},{"sample":"Y46F","ppm":-123.44,"intensity":78},{"sample":"Y46F","ppm":-123.47,"intensity":123},{"sample":"Y46F","ppm":-123.51,"intensity":101},{"sample":"Y46F","ppm":-123.53,"intensity":94},{"sample":"Y46F","ppm":-123.57,"intensity":124},{"sample":"Y46F","ppm":-123.61,"intensity":104},{"sample":"Y46F","ppm":-123.64,"intensity":101},{"sample":"Y46F","ppm":-123.68,"intensity":64},{"sample":"Y46F","ppm":-123.72,"intensity":91},{"sample":"Y46F","ppm":-123.75,"intensity":109},{"sample":"Y46F","ppm":-123.78,"intensity":79},{"sample":"Y46F","ppm":-123.82,"intensity":96},{"sample":"Y46F","ppm":-123.86,"intensity":68},{"sample":"Y46F","ppm":-123.90,"intensity":91},{"sample":"Y46F","ppm":-123.94,"intensity":98},{"sample":"Y46F","ppm":-124.00,"intensity":100}
],
"markers":[
{"shift":"-116.5","ppm":-116.495,"intensity":871,"bottom":-31},
{"shift":"-116.7","ppm":-116.755,"intensity":975,"bottom":-31},
{"shift":"-117.0","ppm":-116.95,"intensity":1109,"bottom":-31},
{"shift":"-119.4","ppm":-119.337,"intensity":937,"bottom":-31}
],
"annotations":[
{"role":"bold","text":"-117.0","ppm":-116.475,"intensity":1110},
{"role":"bold","text":"-116.7","ppm":-115.493,"intensity":1039},
{"role":"bold","text":"-116.5","ppm":-115.349,"intensity":911},
{"role":"bold","text":"-119.4","ppm":-118.470,"intensity":986},
{"role":"residue","text":"(Y40b)","ppm":-117.767,"intensity":1109},
{"role":"residue","text":"(Y46)","ppm":-114.0,"intensity":1032},
{"role":"residue","text":"(Y40a)","ppm":-113.518,"intensity":908},
{"role":"residue","text":"(Y27)","ppm":-119.838,"intensity":983},
{"role":"sample","text":"2-FY-MerR","ppm":-110.445,"intensity":683},
{"role":"sample","text":"2-FY-Y40E","ppm":-110.445,"intensity":330},
{"role":"sample","text":"2-FY-Y46F","ppm":-110.445,"intensity":58},
{"role":"unit","text":"ppm","ppm":-124.925,"intensity":-69}
]
},
"encoding":{
"x":{"field":"ppm","type":"quantitative","scale":{"domain":[-114,-124],"nice":false,"zero":false},
"axis":{"values":[-114,-115,-116,-117,-118,-119,-120,-121,-122,-123,-124],
"labelExpr":"datum.value % 2 === 0 ? '' + datum.value : ''",
"tickSize":{"condition":{"test":"datum.value % 2 === 0","value":24},"value":12},
"tickWidth":3.5,"tickColor":"#000000","domainColor":"#000000","domainWidth":3.5,
"labelFont":"Liberation Sans","labelFontSize":45,"labelColor":"#000000","labelPadding":10,
"labelFlush":false,"labelOverlap":false,"grid":false,"title":null}},
"y":{"field":"intensity","type":"quantitative","scale":{"domain":[0,1171],"nice":false,"zero":false},"axis":null}
},
"layer":[
{"data":{"name":"spectra"},"mark":{"type":"line","strokeWidth":3.3,"interpolate":"linear","strokeJoin":"round"},
"encoding":{"color":{"field":"sample","type":"nominal","scale":{"domain":["MerR","Y40E","Y46F"],"range":["#000000","#ff2a00","#1432ff"]},"legend":null}}},
{"data":{"name":"markers"},"mark":{"type":"rule","strokeWidth":8,"color":"#999999","opacity":0.5},
"encoding":{"y2":{"field":"bottom"}}},
{"data":{"name":"annotations"},"transform":[{"filter":{"field":"role","equal":"bold"}}],
"mark":{"type":"text","align":"left","baseline":"alphabetic","font":"Liberation Sans","fontWeight":"bold","fontSize":47,"color":"#000000"},
"encoding":{"text":{"field":"text"}}},
{"data":{"name":"annotations"},"transform":[{"filter":{"field":"role","equal":"residue"}}],
"mark":{"type":"text","align":"left","baseline":"alphabetic","font":"Liberation Sans","fontSize":62,"color":"#000000"},
"encoding":{"text":{"field":"text"}}},
{"data":{"name":"annotations"},"transform":[{"filter":{"field":"role","equal":"sample"}}],
"mark":{"type":"text","align":"left","baseline":"alphabetic","font":"Liberation Sans","fontSize":64,"color":"#000000"},
"encoding":{"text":{"field":"text"}}},
{"data":{"name":"annotations"},"transform":[{"filter":{"field":"role","equal":"unit"}}],
"mark":{"type":"text","align":"left","baseline":"alphabetic","font":"Liberation Sans","fontSize":54,"color":"#000000"},
"encoding":{"text":{"field":"text"}}}
]
}
